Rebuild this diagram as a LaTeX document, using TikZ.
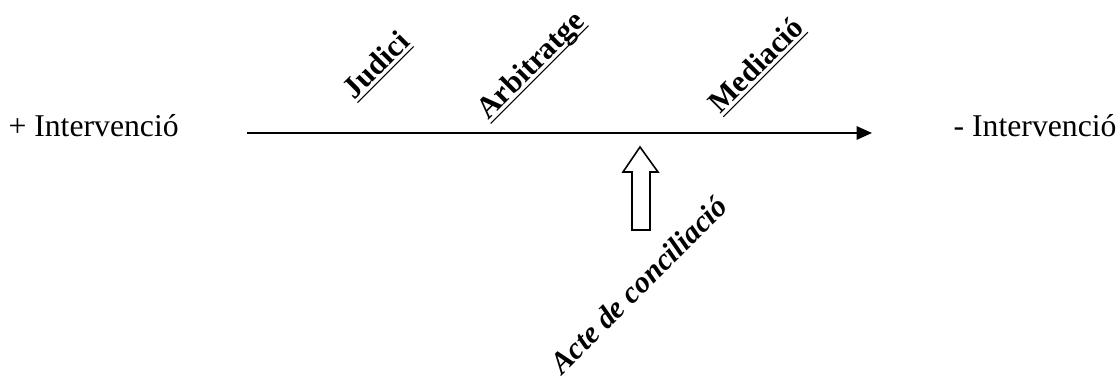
\documentclass[tikz,border=0pt]{standalone}
\usepackage{fontspec}
\setmainfont{Liberation Serif}
\usepackage{tikz}
\usetikzlibrary{arrows.meta}
\newcommand{\lineunder}[1]{\underline{\smash{#1}}}
\tikzstyle{sidetext} = [inner sep=0pt, font=\fontsize{12}{14}\selectfont]
\tikzstyle{slanted} = [inner sep=0pt, anchor=base, rotate=45, font=\fontsize{11.5}{14}\selectfont\bfseries]
\tikzstyle{hollowarrow} = [draw=black, fill=white, line width=0.6pt, line join=miter]

\begin{document}
\begin{tikzpicture}[x=0.3786pt, y=-0.3786pt]
                \useasboundingbox (0,0) rectangle (1120,379);
                \node[sidetext, anchor=base west] (more) at (8,137) {+ Intervenció};
                \node[sidetext, anchor=base east] (less) at (1117,137) {- Intervenció};
                \coordinate (start) at (247,133);
                \coordinate (stop) at (872,133);
                \draw[line width=0.8pt, -{Triangle[length=5.8pt, width=5pt]}] (start) -- (stop);
                % labels along the scale
                \node[slanted] (judici) at (383,72) {\lineunder{Judici}};
                \node[slanted] (arbitratge) at (537,72) {\lineunder{Arbitratge}};
                \node[slanted] (mediacio) at (763,72) {\lineunder{Mediació}};
                % the conciliation act, pointing up at the scale
                \draw[hollowarrow] (640,147) -- (658,172) -- (650,172) -- (650,230)
                    -- (632,230) -- (632,172) -- (623,172) -- cycle;
                \node[slanted, font=\fontsize{11.5}{14}\selectfont\bfseries\itshape] (acte) at (646,292) {Acte de conciliació};
            \end{tikzpicture}
\end{document}
